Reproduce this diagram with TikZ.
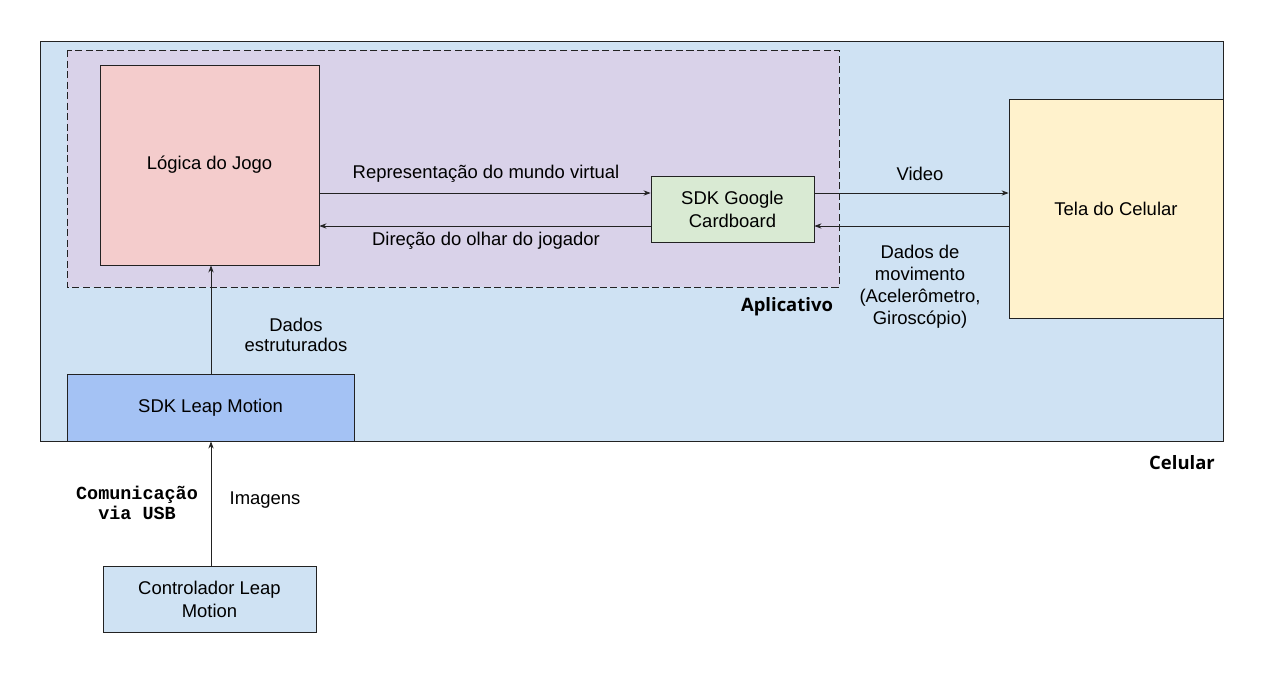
\documentclass[tikz,border=0pt]{standalone}
\usepackage{fontspec}
\setmainfont{Liberation Sans}
\setmonofont{Liberation Mono}
\newfontfamily\titlefont{Open Sans}
\usetikzlibrary{positioning,arrows.meta}

\definecolor{celfill}{HTML}{CFE2F3}
\definecolor{appfill}{HTML}{D9D2E9}
\definecolor{jogofill}{HTML}{F4CCCC}
\definecolor{cardfill}{HTML}{D9EAD3}
\definecolor{telafill}{HTML}{FFF2CC}
\definecolor{leapfill}{HTML}{A4C2F4}
\definecolor{edge}{HTML}{222222}

\tikzset{
  box/.style={draw=edge, line width=0.5pt, align=center, inner sep=0pt,
    font=\fontsize{10.5}{13}\selectfont},
  arr/.style={-{Stealth[length=4pt,width=3pt]}, line width=0.45pt, draw=edge},
  lbl/.style={align=center, font=\fontsize{10.5}{13}\selectfont},
  grp/.style={font=\titlefont\bfseries\fontsize{10.5}{13}\selectfont},
}

\begin{document}
\begin{tikzpicture}[x=0.02cm, y=-0.02cm]
  \useasboundingbox (0,0) rectangle (1267,677);

  % groups
  \draw[fill=celfill, draw=edge, line width=0.5pt] (40,41) rectangle (1223,441);
  \draw[fill=appfill, draw=edge, line width=0.5pt, dash pattern=on 4pt off 2pt] (67,50) rectangle (839,287);

  \node[box, fill=jogofill, minimum width=4.38cm, minimum height=4cm] (jogo) at (209.5,165) {Lógica do Jogo};
  \node[box, fill=cardfill, minimum width=3.26cm, minimum height=1.32cm] (cardboard) at (732.5,209) {SDK Google\\Cardboard};
  \node[box, fill=telafill, minimum width=4.28cm, minimum height=4.38cm] (tela) at (1116,208.5) {Tela do Celular};
  \node[box, fill=leapfill, minimum width=5.74cm, minimum height=1.34cm] (sdkleap) at (210.5,407.5) {SDK Leap Motion};
  \node[box, fill=celfill, minimum width=4.26cm, minimum height=1.32cm] (controlador) at (209.5,599) {Controlador Leap\\Motion};

  % connectors
  \draw[arr] (jogo.east |- 0,193) -- (cardboard.west |- 0,193);
  \draw[arr] (cardboard.west |- 0,226) -- (jogo.east |- 0,226);
  \draw[arr] (cardboard.east |- 0,193) -- (tela.west |- 0,193);
  \draw[arr] (tela.west |- 0,226) -- (cardboard.east |- 0,226);
  \draw[arr] (sdkleap.north -| 211,0) -- (jogo.south -| 211,0);
  \draw[arr] (controlador.north -| 211,0) -- (sdkleap.south -| 211,0);

  \node[lbl] (repr) at (486,174) {Representação do mundo virtual};
  \node[lbl] (direcao) at (486,241) {Direção do olhar do jogador};
  \node[lbl] (video) at (920,174) {Video};
  \node[lbl, font=\fontsize{10.5}{12.6}\selectfont] (movimento) at (920,286.5) {Dados de\\movimento\\(Acelerômetro,\\Giroscópio)};
  \node[lbl, font=\fontsize{10.5}{11.4}\selectfont] (estruturados) at (296,335) {Dados\\estruturados};
  \node[lbl] (imagens) at (265,500) {Imagens};
  \node[lbl, font=\ttfamily\bfseries\fontsize{10.5}{11.4}\selectfont] (usb) at (137,503) {Comunicação\\via USB};

  \node[grp] (aplicativo) at (787,307) {Aplicativo};
  \node[grp] (celular) at (1182,463) {Celular};
\end{tikzpicture}
\end{document}
